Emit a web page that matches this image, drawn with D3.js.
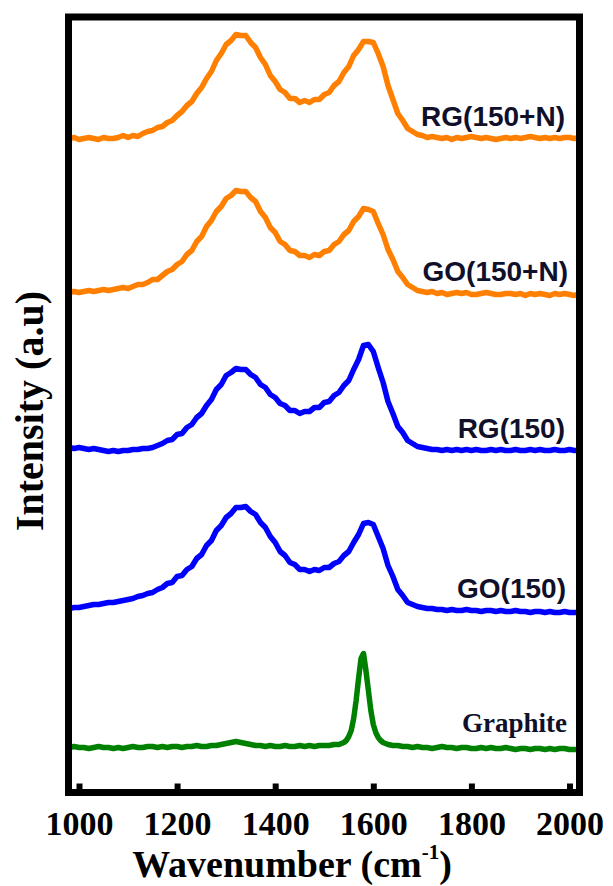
<!DOCTYPE html>
<html>
<head>
<meta charset="utf-8">
<script src="https://cdn.jsdelivr.net/npm/d3@7"></script>
<style>
  html, body { margin: 0; padding: 0; background: #fff; }
  svg { display: block; }
</style>
</head>
<body>
<svg id="chart" width="613" height="886"></svg>
<script>
// ---------------- DATA ----------------
// Shared wavenumber grid (cm^-1) for the four graphene-oxide spectra
const wavenumber = [
  980, 990, 1000, 1010, 1020, 1030, 1040, 1050, 1060, 1070,
  1080, 1090, 1100, 1110, 1120, 1130, 1140, 1150, 1160, 1170,
  1180, 1190, 1200, 1210, 1220, 1230, 1240, 1250, 1260, 1270,
  1280, 1290, 1300, 1310, 1320, 1330, 1340, 1350, 1360, 1370,
  1380, 1390, 1400, 1410, 1420, 1430, 1440, 1450, 1460, 1470,
  1480, 1490, 1500, 1510, 1520, 1530, 1540, 1550, 1560, 1570,
  1580, 1590, 1600, 1610, 1620, 1630, 1640, 1650, 1660, 1670,
  1680, 1690, 1700, 1710, 1720, 1730, 1740, 1750, 1760, 1770,
  1780, 1790, 1800, 1810, 1820, 1830, 1840, 1850, 1860, 1870,
  1880, 1890, 1900, 1910, 1920, 1930, 1940, 1950, 1960, 1970,
  1980, 1990, 2000, 2010, 2020
];

const rg150N = [
  0, 1, -1, 0, 1, 0, -1, 1, 0, 0,
  1, 3, 1, 3, 2, 5, 7, 8, 11, 12,
  16, 18, 23, 27, 33, 37, 45, 51, 60, 67,
  78, 85, 94, 98, 104, 103, 103, 96, 91, 81,
  74, 63, 57, 49, 46, 40, 40, 36, 38, 36,
  39, 39, 44, 46, 53, 57, 66, 72, 83, 89,
  97, 97, 96, 85, 72, 53, 39, 25, 18, 10,
  7, 4, 3, 1, 2, 1, 0, 1, -1, 1,
  0, 1, 2, 1, 0, 1, 0, -1, 0, 1,
  0, 1, 0, 1, 2, 1, 0, 1, 0, 1,
  0, 1, 1, 0, 1
];

const go150N = [
  0, 1, 0, 1, 2, 1, 2, 3, 2, 3,
  4, 5, 4, 6, 8, 8, 10, 13, 13, 17,
  21, 23, 28, 31, 38, 42, 51, 56, 66, 72,
  81, 86, 94, 97, 102, 101, 101, 95, 91, 81,
  75, 65, 60, 51, 48, 42, 41, 37, 37, 35,
  38, 37, 41, 42, 48, 51, 58, 62, 71, 76,
  84, 83, 81, 69, 58, 43, 33, 21, 15, 8,
  5, 2, 1, 0, 1, -1, 0, -2, -1, 0,
  -1, 0, -2, -2, -1, 0, -1, -2, -2, -1,
  -1, -2, -1, -3, -1, -2, -1, -2, -3, -1,
  -2, -1, -2, -3, -1
];

const rg150 = [
  1, 0, 1, 0, -1, 0, -1, -2, -3, -2,
  -3, -2, -2, -1, -1, 0, 0, 1, 3, 5,
  8, 9, 14, 15, 21, 24, 31, 35, 43, 49,
  59, 64, 73, 76, 80, 79, 79, 74, 71, 64,
  61, 54, 51, 45, 43, 38, 38, 35, 37, 37,
  41, 41, 46, 47, 53, 56, 63, 68, 79, 89,
  103, 104, 97, 81, 66, 47, 35, 22, 16, 8,
  5, 2, 1, 0, -1, -1, -2, -1, -2, -1,
  -2, -1, -2, -1, -2, -2, -1, -2, -1, -2,
  -2, -1, -2, -2, -1, -2, -1, -2, -2, -1,
  -2, -2, -1, -2, -2
];

const go150 = [
  -1, 0, 0, 1, 2, 3, 3, 4, 5, 5,
  6, 7, 8, 9, 11, 12, 14, 15, 18, 20,
  24, 25, 31, 32, 38, 41, 49, 53, 62, 67,
  77, 82, 90, 94, 100, 100, 101, 96, 93, 85,
  80, 71, 65, 56, 52, 45, 43, 38, 38, 36,
  38, 37, 40, 40, 44, 46, 52, 56, 65, 73,
  84, 85, 83, 71, 59, 42, 31, 18, 12, 5,
  3, 1, 0, -1, -1, -2, -2, -3, -2, -3,
  -3, -2, -3, -3, -4, -3, -3, -4, -3, -4,
  -4, -3, -4, -4, -5, -4, -4, -5, -4, -5,
  -5, -4, -5, -5, -5
];

// Graphite is sampled more finely around its sharp G band
const graphiteWavenumber = [
  980, 990, 1000, 1010, 1020, 1030, 1040, 1050, 1060, 1070,
  1080, 1090, 1100, 1110, 1120, 1130, 1140, 1150, 1160, 1170,
  1180, 1190, 1200, 1210, 1220, 1230, 1240, 1250, 1260, 1270,
  1280, 1290, 1300, 1310, 1320, 1330, 1340, 1350, 1360, 1370,
  1380, 1390, 1400, 1410, 1420, 1430, 1440, 1450, 1460, 1470,
  1480, 1490, 1500, 1510, 1520, 1530, 1540,
  1545, 1550, 1555, 1560, 1565, 1570, 1575, 1580, 1585, 1590,
  1595, 1600, 1605, 1610, 1615, 1620,
  1630, 1640, 1650, 1660, 1670, 1680, 1690, 1700, 1710, 1720,
  1730, 1740, 1750, 1760, 1770, 1780, 1790, 1800, 1810, 1820,
  1830, 1840, 1850, 1860, 1870, 1880, 1890, 1900, 1910, 1920,
  1930, 1940, 1950, 1960, 1970, 1980, 1990, 2000, 2010, 2020
];
const graphite = [
  1, 2, 1, 1, 0, 1, 2, 1, 1, 0,
  1, 0, 1, 2, 1, 1, 2, 2, 1, 2,
  1, 2, 2, 1, 2, 2, 3, 2, 2, 3,
  3, 4, 5, 6, 7, 6, 5, 4, 3, 3,
  2, 3, 2, 2, 3, 2, 2, 3, 2, 3,
  2, 3, 3, 3, 4, 4, 6,
  8, 12, 18, 30, 48, 70, 90, 95, 78, 58,
  38, 24, 16, 11, 8, 6,
  4, 3, 3, 2, 2, 1, 2, 1, 1, 0,
  1, 2, 1, 1, 0, 1, 1, 0, 0, 1,
  0, 1, 0, 0, 1, 0, -1, 0, 0, -1,
  0, 0, -1, 0, -1, 0, 0, -1, -1, -1
];

// Vertical offsets (a.u.) used to stack the spectra
const seriesNames   = ["RG(150+N)", "GO(150+N)", "RG(150)", "GO(150)", "Graphite"];
const seriesOffsets = [654, 500, 344, 185, 44];
const seriesColors  = ["#ff7f00", "#ff7f00", "#0000ff", "#0000ff", "#008000"];

const xTicks = [1000, 1200, 1400, 1600, 1800, 2000];
const xTitle = "Wavenumber (cm";
const xTitleSup = "-1";
const yTitle = "Intensity (a.u)";

// ---------------- CHART ----------------
const svg = d3.select("#chart");
const frame = { left: 68.5, right: 579.5, top: 17, bottom: 792.5 };

const x = d3.scaleLinear().domain([978.6, 2020.4]).range([frame.left, frame.right]);
const y = d3.scaleLinear().domain([0, 780]).range([frame.bottom, frame.bottom - 780]);

const seriesData = [
  { xs: wavenumber, ys: rg150N },
  { xs: wavenumber, ys: go150N },
  { xs: wavenumber, ys: rg150 },
  { xs: wavenumber, ys: go150 },
  { xs: graphiteWavenumber, ys: graphite }
];

svg.append("defs").append("clipPath").attr("id", "plotClip")
  .append("rect")
  .attr("x", frame.left).attr("y", frame.top)
  .attr("width", frame.right - frame.left).attr("height", frame.bottom - frame.top);

const line = d3.line().x(d => x(d[0])).y(d => y(d[1])).curve(d3.curveLinear);

const plot = svg.append("g").attr("clip-path", "url(#plotClip)");
seriesData.forEach((s, i) => {
  const pts = s.xs.map((w, j) => [w, s.ys[j] + seriesOffsets[i]]);
  plot.append("path")
    .datum(pts)
    .attr("fill", "none")
    .attr("stroke", seriesColors[i])
    .attr("stroke-width", 5.5)
    .attr("stroke-linejoin", "round")
    .attr("stroke-linecap", "round")
    .attr("d", line);
});

// Frame
svg.append("rect")
  .attr("x", frame.left).attr("y", frame.top)
  .attr("width", frame.right - frame.left).attr("height", frame.bottom - frame.top)
  .attr("fill", "none").attr("stroke", "#000").attr("stroke-width", 7);

// Bottom axis (inward ticks)
const xAxis = d3.axisBottom(x).tickValues(xTicks).tickFormat(d3.format("d"))
  .tickSizeInner(-9).tickSizeOuter(0).tickPadding(0);
const gx = svg.append("g").attr("transform", `translate(0,${frame.bottom})`).call(xAxis);
gx.select(".domain").remove();
gx.selectAll(".tick line").attr("stroke", "#000").attr("stroke-width", 6);
gx.selectAll(".tick text")
  .attr("y", 0).attr("dy", null)
  .attr("transform", "translate(0,42.5)")
  .attr("fill", "#000")
  .style("font-family", "'Liberation Serif', 'Times New Roman', serif")
  .style("font-weight", "bold")
  .style("font-size", "34px");

// X title
const xt = svg.append("text")
  .attr("x", 292).attr("y", 877)
  .attr("text-anchor", "middle")
  .style("font-family", "'Liberation Serif', 'Times New Roman', serif")
  .style("font-weight", "bold")
  .style("font-size", "38px")
  .attr("fill", "#000");
xt.append("tspan").text(xTitle);
xt.append("tspan").text(xTitleSup).attr("dy", -18).style("font-size", "21px");
xt.append("tspan").text(")").attr("dy", 18);

// Y title
svg.append("text")
  .attr("transform", `translate(43,${411}) rotate(-90)`)
  .attr("text-anchor", "middle")
  .style("font-family", "'Liberation Serif', 'Times New Roman', serif")
  .style("font-weight", "bold")
  .style("font-size", "40px")
  .attr("fill", "#000")
  .text(yTitle);

// Series labels
const labelPos = [
  { x: 565, y: 126, serif: false },
  { x: 568, y: 281, serif: false },
  { x: 565, y: 438, serif: false },
  { x: 566, y: 598, serif: false },
  { x: 567, y: 732, serif: true }
];
seriesNames.forEach((name, i) => {
  const p = labelPos[i];
  svg.append("text")
    .attr("x", p.x).attr("y", p.y)
    .attr("text-anchor", "end")
    .attr("fill", "#10102a")
    .style("font-family", p.serif ? "'Liberation Serif', 'Times New Roman', serif" : "'Liberation Sans', Arial, sans-serif")
    .style("font-weight", "bold")
    .style("font-size", p.serif ? "27px" : "28px")
    .text(name);
});
</script>
</body>
</html>
